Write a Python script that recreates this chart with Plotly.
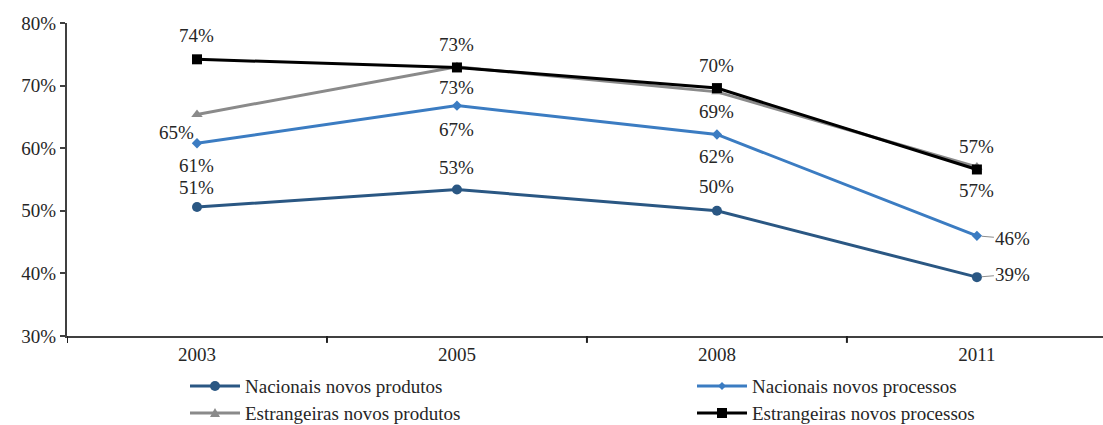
import plotly.graph_objects as go

# Survey years and shares of firms (fraction) per group
years = ["2003", "2005", "2008", "2011"]
nac_produtos = [0.506, 0.534, 0.500, 0.394]
nac_processos = [0.608, 0.668, 0.622, 0.460]
est_produtos = [0.654, 0.730, 0.690, 0.570]
est_processos = [0.742, 0.729, 0.696, 0.566]

series_names = [
    "Nacionais novos produtos",
    "Nacionais novos processos",
    "Estrangeiras novos produtos",
    "Estrangeiras novos processos",
]

FONT = "Liberation Serif"
TXT = "#262626"
FS = 19

W, H = 1103, 425
ML, MR, MT, MB = 67, 0, 23, 89
PW, PH = W - ML - MR, H - MT - MB

styles = [
    dict(color="#2A5783", symbol="circle", size=10),
    dict(color="#3B7CC2", symbol="diamond", size=8),
    dict(color="#8A8A8A", symbol="triangle-up", size=10),
    dict(color="#000000", symbol="square", size=10),
]

# per-point label offsets in pixels (xshift, yshift)
label_offsets = [
    [(0, 20), (0, 22), (0, 24), None],
    [(0, -22), (0, -24), (0, -22), None],
    [(-20, -18), (0, -21), (0, -20), (0, 20)],
    [(0, 24), (0, 23), (0, 23), (0, -21)],
]
# last-point labels drawn with a short leader line
leader_series = {0: (36, -3), 1: (36, 3)}

data = [nac_produtos, nac_processos, est_produtos, est_processos]

fig = go.Figure()
xs = list(range(len(years)))
for name, vals, st in zip(series_names, data, styles):
    fig.add_trace(go.Scatter(
        x=xs, y=vals, name=name, mode="lines+markers", showlegend=False,
        line=dict(color=st["color"], width=3),
        marker=dict(color=st["color"], symbol=st["symbol"], size=st["size"]),
    ))

annotations = []
for si, vals in enumerate(data):
    for i, v in enumerate(vals):
        txt = f"{round(v * 100):.0f}%"
        off = label_offsets[si][i]
        if off is None:
            ax, ay = leader_series[si]
            annotations.append(dict(
                x=xs[i], y=v, text=txt, showarrow=True, arrowhead=0,
                arrowwidth=1, arrowcolor="#8C8C8C", ax=ax, ay=ay,
                standoff=5, font=dict(family=FONT, size=FS, color=TXT),
            ))
        else:
            annotations.append(dict(
                x=xs[i], y=v, text=txt, showarrow=False,
                xshift=off[0], yshift=off[1],
                font=dict(family=FONT, size=FS, color=TXT),
            ))


def px_x(p):
    return (p - ML) / PW


def px_y(p):
    return (H - MB - p) / PH


# legend laid out in two columns below the axis
shapes = []
legend_slots = [(190, 386), (697, 386), (190, 413), (697, 413)]
for (lx, ly), name, st in zip(legend_slots, series_names, styles):
    col = st["color"]
    shapes.append(dict(type="line", xref="paper", yref="paper",
                       x0=px_x(lx), x1=px_x(lx + 50), y0=px_y(ly), y1=px_y(ly),
                       line=dict(color=col, width=3)))
    cx, cy = lx + 25, ly
    sym = st["symbol"]
    if sym == "circle":
        r = 5
        shapes.append(dict(type="circle", xref="paper", yref="paper",
                           x0=px_x(cx - r), x1=px_x(cx + r),
                           y0=px_y(cy + r), y1=px_y(cy - r),
                           fillcolor=col, line=dict(color=col, width=0)))
    elif sym == "square":
        r = 5
        shapes.append(dict(type="rect", xref="paper", yref="paper",
                           x0=px_x(cx - r), x1=px_x(cx + r),
                           y0=px_y(cy + r), y1=px_y(cy - r),
                           fillcolor=col, line=dict(color=col, width=0)))
    elif sym == "diamond":
        r = 4
        pts = [(cx, cy - r), (cx + r, cy), (cx, cy + r), (cx - r, cy)]
        path = "M" + "L".join(f"{px_x(a)},{px_y(b)}" for a, b in pts) + "Z"
        shapes.append(dict(type="path", xref="paper", yref="paper", path=path,
                           fillcolor=col, line=dict(color=col, width=0)))
    else:
        r = 5
        pts = [(cx, cy - r), (cx + r, cy + r * 0.8), (cx - r, cy + r * 0.8)]
        path = "M" + "L".join(f"{px_x(a)},{px_y(b)}" for a, b in pts) + "Z"
        shapes.append(dict(type="path", xref="paper", yref="paper", path=path,
                           fillcolor=col, line=dict(color=col, width=0)))
    annotations.append(dict(
        xref="paper", yref="paper", x=px_x(lx + 53), y=px_y(ly),
        xanchor="left", yanchor="middle", text=name, showarrow=False,
        font=dict(family=FONT, size=FS, color=TXT),
    ))

# category boundary tick marks along the x axis
for b in [-0.5, 0.5, 1.5, 2.5]:
    shapes.append(dict(type="line", xref="x", yref="paper", x0=b, x1=b,
                       y0=0, y1=-0.022, line=dict(color="#202020", width=2)))

fig.update_layout(
    width=W, height=H,
    margin=dict(l=ML, r=MR, t=MT, b=MB),
    paper_bgcolor="white", plot_bgcolor="white",
    font=dict(family=FONT, size=FS, color=TXT),
    annotations=annotations,
    shapes=shapes,
    showlegend=False,
    xaxis=dict(
        type="linear", range=[-0.5, 3.485],
        tickvals=xs, ticktext=years, ticks="",
        showline=True, linecolor="#404040", linewidth=2,
        showgrid=False, zeroline=False,
        tickfont=dict(family=FONT, size=FS, color=TXT),
    ),
    yaxis=dict(
        range=[0.3, 0.8], dtick=0.1, tickformat=".0%",
        ticks="outside", ticklen=5, tickcolor="#404040", tickwidth=2,
        showline=True, linecolor="#404040", linewidth=2,
        showgrid=False, zeroline=False,
        tickfont=dict(family=FONT, size=FS, color=TXT),
    ),
)

fig.write_html("out.html")
